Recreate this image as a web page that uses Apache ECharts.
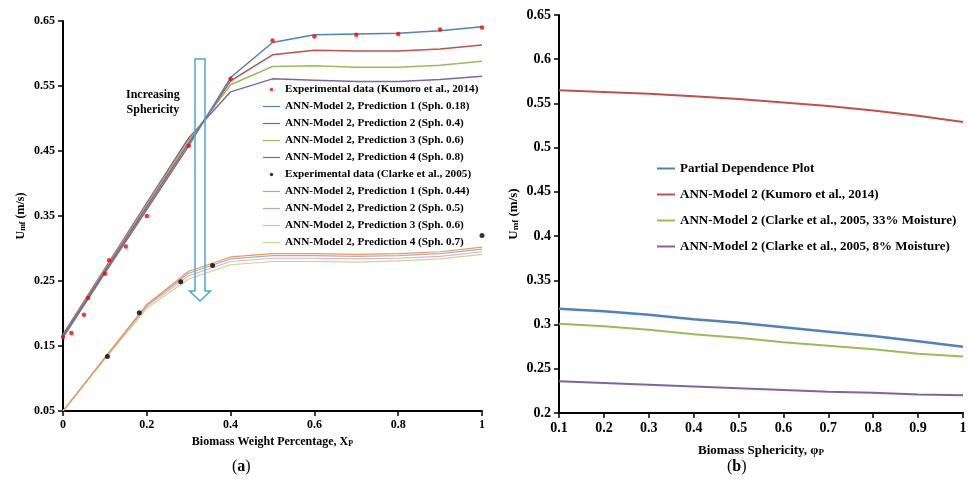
<!DOCTYPE html>
<html>
<head>
<meta charset="utf-8">
<script src="https://cdn.jsdelivr.net/npm/echarts@6/dist/echarts.min.js"></script>
<style>
  html, body { margin: 0; padding: 0; background: #fff; }
  #chart { width: 971px; height: 490px; }
</style>
</head>
<body>
<div id="chart"></div>
<script>
// (a) biomass weight percentage
var xWeight = [0, 0.1, 0.2, 0.3, 0.4, 0.5, 0.6, 0.7, 0.8, 0.9, 1];

var kumoroX = [0, 0.02, 0.05, 0.06, 0.1, 0.11, 0.15, 0.2, 0.3, 0.4, 0.5, 0.6, 0.7, 0.8, 0.9, 1];
var kumoroY = [0.164, 0.170, 0.198, 0.224, 0.261, 0.282, 0.303, 0.350, 0.458, 0.561, 0.620, 0.626, 0.629, 0.630, 0.637, 0.640];

var kumoroPred1 = [0.163, 0.262, 0.360, 0.458, 0.563, 0.617, 0.629, 0.630, 0.631, 0.635, 0.641];
var kumoroPred2 = [0.165, 0.265, 0.364, 0.462, 0.558, 0.598, 0.605, 0.604, 0.604, 0.607, 0.613];
var kumoroPred3 = [0.166, 0.267, 0.367, 0.466, 0.552, 0.580, 0.581, 0.579, 0.579, 0.582, 0.588];
var kumoroPred4 = [0.168, 0.269, 0.370, 0.470, 0.541, 0.561, 0.559, 0.557, 0.557, 0.560, 0.565];

var clarkeX = [0.106, 0.182, 0.281, 0.357, 1];
var clarkeY = [0.134, 0.201, 0.249, 0.274, 0.320];

var clarkePred1 = [0.05, 0.132, 0.214, 0.265, 0.287, 0.292, 0.292, 0.291, 0.292, 0.295, 0.302];
var clarkePred2 = [0.05, 0.132, 0.213, 0.262, 0.284, 0.289, 0.289, 0.288, 0.289, 0.292, 0.299];
var clarkePred3 = [0.05, 0.131, 0.211, 0.258, 0.280, 0.285, 0.285, 0.284, 0.285, 0.288, 0.295];
var clarkePred4 = [0.05, 0.130, 0.208, 0.253, 0.275, 0.280, 0.280, 0.279, 0.281, 0.284, 0.291];

// (b) biomass sphericity
var xSph = [0.1, 0.2, 0.3, 0.4, 0.5, 0.6, 0.7, 0.8, 0.9, 1];
var pdp = [0.318, 0.315, 0.311, 0.306, 0.302, 0.297, 0.292, 0.287, 0.281, 0.275];
var annKumoro = [0.565, 0.563, 0.561, 0.558, 0.555, 0.551, 0.547, 0.542, 0.536, 0.529];
var annClarke33 = [0.301, 0.298, 0.294, 0.289, 0.285, 0.280, 0.276, 0.272, 0.267, 0.264];
var annClarke8 = [0.236, 0.234, 0.232, 0.230, 0.228, 0.226, 0.224, 0.223, 0.221, 0.220];

var namesA = [
  "Experimental data (Kumoro et al., 2014)",
  "ANN-Model 2, Prediction 1 (Sph. 0.18)",
  "ANN-Model 2, Prediction 2 (Sph. 0.4)",
  "ANN-Model 2, Prediction 3 (Sph. 0.6)",
  "ANN-Model 2, Prediction 4 (Sph. 0.8)",
  "Experimental data (Clarke et al., 2005)",
  "ANN-Model 2, Prediction 1 (Sph. 0.44)",
  "ANN-Model 2, Prediction 2 (Sph. 0.5)",
  "ANN-Model 2, Prediction 3 (Sph. 0.6) ", // trailing space keeps the name unique
  "ANN-Model 2, Prediction 4 (Sph. 0.7)"
];
var namesB = [
  "Partial Dependence Plot",
  "ANN-Model 2 (Kumoro et al., 2014)",
  "ANN-Model 2 (Clarke et al., 2005, 33% Moisture)",
  "ANN-Model 2 (Clarke et al., 2005, 8% Moisture)"
];

var FONT = '"Liberation Serif", "DejaVu Serif", serif';
var dotIcon = "path://M0,0M17,10M10.2,5A1.7,1.7,0,1,1,6.8,5A1.7,1.7,0,1,1,10.2,5Z";
var thinLine = "path://M0,0M17,10M0,4.4L17,4.4L17,5.6L0,5.6Z";
var thickLine = "path://M0,0M18,10M0,4L18,4L18,6L0,6Z";

function pairs(xs, ys) {
  return xs.map(function (x, i) { return [x, ys[i]]; });
}

function lineSeries(name, xs, ys, color, width, idx) {
  return {
    name: name, type: "line", xAxisIndex: idx, yAxisIndex: idx,
    data: pairs(xs, ys), symbol: "none", smooth: false,
    lineStyle: { color: color, width: width }, itemStyle: { color: color },
    emphasis: { disabled: true }, animation: false
  };
}

function scatterSeries(name, xs, ys, color, size) {
  return {
    name: name, type: "scatter", xAxisIndex: 0, yAxisIndex: 0,
    data: pairs(xs, ys), symbolSize: size, z: 5,
    itemStyle: { color: color }, animation: false
  };
}

function axis(extra, fontSize) {
  var a = {
    type: "value",
    axisLine: { show: true, onZero: false, lineStyle: { color: "#000", width: 2 } },
    axisTick: { show: true, inside: false, length: 5, lineStyle: { color: "#000", width: 1.5 } },
    axisLabel: { color: "#000", fontFamily: FONT, fontWeight: "bold", fontSize: fontSize },
    splitLine: { show: false },
    nameLocation: "middle",
    nameTextStyle: { color: "#000", fontFamily: FONT, fontWeight: "bold", fontSize: 12 }
  };
  for (var k in extra) a[k] = extra[k];
  return a;
}

var subRich = {
  n: { fontFamily: FONT, fontWeight: "bold", fontSize: 12, color: "#000", lineHeight: 16, verticalAlign: "bottom" },
  s: { fontFamily: FONT, fontWeight: "bold", fontSize: 8, color: "#000", lineHeight: 11, verticalAlign: "bottom" }
};
var subRichB = {
  n: { fontFamily: FONT, fontWeight: "bold", fontSize: 13, color: "#000", lineHeight: 17, verticalAlign: "bottom" },
  s: { fontFamily: FONT, fontWeight: "bold", fontSize: 9, color: "#000", lineHeight: 12, verticalAlign: "bottom" }
};

var chart = echarts.init(document.getElementById("chart"), null, { renderer: "canvas" });

var option = {
  backgroundColor: "#fff",
  animation: false,
  grid: [
    { left: 63, top: 21, width: 419, height: 390 },
    { left: 559, top: 15, width: 404, height: 398 }
  ],
  xAxis: [
    axis({ gridIndex: 0, min: 0, max: 1, interval: 0.2,
      name: "{n|Biomass Weight Percentage, X}{s|P}", nameGap: 19,
      nameTextStyle: { rich: subRich } }, 12),
    axis({ gridIndex: 1, min: 0.1, max: 1, interval: 0.1,
      name: "{n|Biomass Sphericity, φ}{s|P}", nameGap: 27,
      nameTextStyle: { rich: subRichB } }, 14)
  ],
  yAxis: [
    axis({ gridIndex: 0, min: 0.05, max: 0.65, interval: 0.1,
      name: "{n|U}{s|mf}{n| (m/s)}", nameGap: 36, nameRotate: 90,
      nameTextStyle: { rich: subRich } }, 12),
    axis({ gridIndex: 1, min: 0.2, max: 0.65, interval: 0.05,
      name: "{n|U}{s|mf}{n| (m/s)}", nameGap: 39, nameRotate: 90,
      nameTextStyle: { rich: subRichB } }, 14)
  ],
  legend: [
    {
      orient: "vertical", left: 263, top: 81, padding: 0, itemGap: 0,
      itemWidth: 17, itemHeight: 10, selectedMode: false,
      textStyle: { fontFamily: FONT, fontWeight: "bold", fontSize: 11.2, color: "#000", lineHeight: 17 },
      data: namesA.map(function (n, i) {
        return { name: n, icon: (i === 0 || i === 5) ? dotIcon : thinLine };
      })
    },
    {
      orient: "vertical", left: 657, top: 160, padding: 0, itemGap: 9,
      itemWidth: 18, itemHeight: 10, selectedMode: false,
      textStyle: { fontFamily: FONT, fontWeight: "bold", fontSize: 13, color: "#000", lineHeight: 17 },
      data: namesB.map(function (n) { return { name: n, icon: thickLine }; })
    }
  ],
  series: [
    lineSeries(namesA[4], xWeight, kumoroPred4, "#8064A2", 1.5, 0),
    lineSeries(namesA[3], xWeight, kumoroPred3, "#9BBB59", 1.5, 0),
    lineSeries(namesA[2], xWeight, kumoroPred2, "#C0504D", 1.5, 0),
    lineSeries(namesA[1], xWeight, kumoroPred1, "#4F81BD", 1.5, 0),
    lineSeries(namesA[9], xWeight, clarkePred4, "#C3D69B", 1.2, 0),
    lineSeries(namesA[8], xWeight, clarkePred3, "#E6B0AE", 1.2, 0),
    lineSeries(namesA[7], xWeight, clarkePred2, "#95B3D7", 1.2, 0),
    lineSeries(namesA[6], xWeight, clarkePred1, "#F79646", 1.2, 0),
    scatterSeries(namesA[0], kumoroX, kumoroY, "#FF0000", 4.5),
    scatterSeries(namesA[5], clarkeX, clarkeY, "#000000", 5),
    lineSeries(namesB[0], xSph, pdp, "#4F81BD", 2.5, 1),
    lineSeries(namesB[1], xSph, annKumoro, "#C0504D", 2, 1),
    lineSeries(namesB[2], xSph, annClarke33, "#9BBB59", 2, 1),
    lineSeries(namesB[3], xSph, annClarke8, "#8064A2", 2, 1)
  ],
  graphic: [
    {
      type: "polygon", z: 10, silent: true,
      shape: { points: [[195, 59], [205, 59], [205, 291], [210.5, 291], [200, 301], [189.5, 291], [195, 291]] },
      style: { fill: "none", stroke: "#4BACC6", lineWidth: 1.5 }
    },
    {
      type: "text", z: 10, left: 126, top: 87,
      style: { text: "Increasing\nSphericity", fontFamily: FONT, fontWeight: "bold", fontSize: 12,
        lineHeight: 15, fill: "#000", textAlign: "center" }
    },
    {
      type: "text", left: 232, top: 459,
      style: { text: "({b|a})", fontFamily: FONT, fontSize: 16, fill: "#000",
        rich: { b: { fontFamily: FONT, fontWeight: "bold", fontSize: 16, fill: "#000" } } }
    },
    {
      type: "text", left: 727, top: 459,
      style: { text: "({b|b})", fontFamily: FONT, fontSize: 16, fill: "#000",
        rich: { b: { fontFamily: FONT, fontWeight: "bold", fontSize: 16, fill: "#000" } } }
    }
  ]
};

chart.setOption(option);
</script>
</body>
</html>
